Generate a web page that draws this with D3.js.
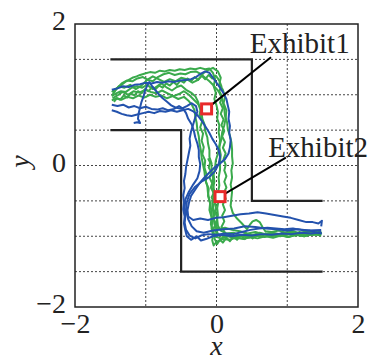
<!DOCTYPE html>
<html>
<head>
<meta charset="utf-8">
<script src="https://cdn.jsdelivr.net/npm/d3@7"></script>
<style>
  body { margin: 0; background: #fff; }
</style>
</head>
<body>
<figure id="chart" style="margin:0"></figure>
<script>
// axis ticks
const xTicks = [-2, 0, 2];
const yTicks = [-2, 0, 2];
const xGrid = [-1, 0, 1];
const yGrid = [-1.5, -1, -0.5, 0, 0.5, 1, 1.5];

// corridor walls
const wallUpper = [[-1.5, 1.5], [0.5, 1.5], [0.5, -0.5], [1.5, -0.5]];
const wallLower = [[-1.5, 0.5], [-0.5, 0.5], [-0.5, -1.5], [1.5, -1.5]];

// exhibits: position and label anchor
const exhibits = [
  { name: "Exhibit1", at: [-0.14, 0.80], label: [0.47, 1.59], end: [0.77, 1.53] },
  { name: "Exhibit2", at: [0.05, -0.44], label: [0.73, 0.12], end: [0.98, 0.11] }
];

// green trajectories
const green1 = [[-1.48,1.04],[-1.43,1.08],[-1.39,1.10],[-1.33,1.15],[-1.29,1.18],[-1.24,1.21],[-1.19,1.24],[-1.13,1.26],[-1.08,1.28],[-1.01,1.30],[-0.94,1.32],[-0.87,1.31],[-0.80,1.34],[-0.73,1.33],[-0.66,1.35],[-0.59,1.34],[-0.52,1.36],[-0.45,1.35],[-0.37,1.37],[-0.30,1.36],[-0.23,1.38],[-0.16,1.36],[-0.10,1.37],[-0.05,1.31],[-0.02,1.22],[-0.04,1.12],[-0.01,1.03],[-0.03,0.94],[0.00,0.85],[0.02,0.76],[0.01,0.66],[0.04,0.57],[0.03,0.47],[0.05,0.36],[0.04,0.26],[0.06,0.15],[0.05,0.05],[0.05,-0.06],[0.03,-0.17],[0.04,-0.28],[0.02,-0.39],[0.03,-0.49],[0.01,-0.60],[0.02,-0.70],[0.00,-0.80],[-0.01,-0.88],[0.02,-0.97],[0.10,-1.00],[0.19,-0.98],[0.29,-1.01],[0.40,-0.97],[0.50,-0.99],[0.61,-0.95],[0.72,-0.98],[0.83,-0.96],[0.94,-0.98],[1.04,-0.95],[1.15,-0.97],[1.25,-0.96],[1.37,-0.98],[1.49,-0.95]];
const green2 = [[-1.48,0.98],[-1.42,1.02],[-1.35,1.05],[-1.28,1.04],[-1.20,1.10],[-1.12,1.12],[-1.05,1.10],[-0.98,1.14],[-0.90,1.08],[-0.84,1.12],[-0.78,1.16],[-0.70,1.10],[-0.63,1.06],[-0.56,1.11],[-0.50,1.13],[-0.43,1.07],[-0.36,1.03],[-0.30,0.98],[-0.26,0.90],[-0.24,0.82],[-0.21,0.74],[-0.20,0.66],[-0.17,0.58],[-0.16,0.49],[-0.13,0.40],[-0.12,0.31],[-0.10,0.22],[-0.10,0.12],[-0.07,0.03],[-0.07,-0.07],[-0.05,-0.17],[-0.05,-0.27],[-0.03,-0.37],[-0.03,-0.47],[-0.01,-0.57],[-0.01,-0.67],[0.01,-0.76],[0.02,-0.85],[0.06,-0.92],[0.14,-0.96],[0.24,-0.95],[0.34,-0.99],[0.45,-0.97],[0.56,-1.00],[0.67,-0.97],[0.78,-1.00],[0.90,-0.98],[1.01,-1.01],[1.12,-0.98],[1.24,-1.00],[1.36,-0.97],[1.48,-0.99]];
const green3 = [[-1.47,1.00],[-1.41,1.09],[-1.34,1.16],[-1.27,1.20],[-1.19,1.19],[-1.12,1.23],[-1.04,1.25],[-0.97,1.21],[-0.90,1.19],[-0.83,1.25],[-0.75,1.29],[-0.67,1.31],[-0.59,1.28],[-0.51,1.30],[-0.44,1.29],[-0.37,1.32],[-0.29,1.33],[-0.22,1.29],[-0.16,1.24],[-0.10,1.19],[-0.04,1.13],[0.02,1.06],[0.07,0.98],[0.09,0.89],[0.11,0.80],[0.12,0.70],[0.15,0.61],[0.16,0.51],[0.19,0.42],[0.21,0.33],[0.22,0.23],[0.22,0.13],[0.23,0.03],[0.21,-0.07],[0.22,-0.17],[0.20,-0.27],[0.22,-0.37],[0.21,-0.47],[0.20,-0.57],[0.23,-0.67],[0.29,-0.75],[0.36,-0.82],[0.43,-0.90],[0.47,-0.84],[0.51,-0.79],[0.56,-0.77],[0.61,-0.80],[0.65,-0.87],[0.69,-0.93],[0.78,-0.94],[0.88,-0.92],[0.98,-0.95],[1.08,-0.93],[1.19,-0.96],[1.29,-0.93],[1.39,-0.95],[1.48,-0.93]];
const green4 = [[-1.48,0.92],[-1.41,0.95],[-1.34,0.93],[-1.26,0.97],[-1.18,0.95],[-1.10,0.99],[-1.02,0.96],[-0.94,1.00],[-0.86,0.97],[-0.78,0.99],[-0.70,0.95],[-0.62,0.98],[-0.54,0.94],[-0.46,0.97],[-0.40,0.92],[-0.35,0.86],[-0.31,0.78],[-0.30,0.69],[-0.28,0.60],[-0.27,0.50],[-0.25,0.41],[-0.24,0.31],[-0.22,0.21],[-0.21,0.11],[-0.19,0.01],[-0.17,-0.09],[-0.16,-0.19],[-0.13,-0.29],[-0.12,-0.39],[-0.10,-0.49],[-0.08,-0.59],[-0.07,-0.69],[-0.06,-0.79],[-0.07,-0.89],[-0.05,-0.98],[-0.06,-1.06],[-0.04,-1.13],[0.00,-1.08],[0.08,-1.04],[0.18,-1.05],[0.28,-1.02],[0.38,-1.04],[0.48,-1.01],[0.58,-1.03],[0.69,-1.00],[0.80,-1.02],[0.91,-0.99],[1.02,-1.01],[1.13,-0.98],[1.24,-1.00],[1.36,-0.97],[1.48,-0.98]];
const green5 = [[-1.46,1.03],[-1.38,1.12],[-1.30,1.10],[-1.22,1.14],[-1.14,1.08],[-1.06,1.13],[-0.98,1.21],[-0.90,1.26],[-0.82,1.22],[-0.74,1.18],[-0.66,1.22],[-0.58,1.19],[-0.50,1.24],[-0.42,1.22],[-0.34,1.17],[-0.26,1.21],[-0.19,1.30],[-0.12,1.35],[-0.05,1.38],[0.02,1.33],[0.06,1.24],[0.04,1.15],[0.09,1.07],[0.12,0.97],[0.10,0.88],[0.14,0.78],[0.13,0.67],[0.11,0.57],[0.08,0.47],[0.07,0.37],[0.04,0.27],[0.02,0.17],[-0.01,0.07],[-0.02,-0.03],[-0.04,-0.13],[-0.03,-0.23],[-0.05,-0.33],[-0.04,-0.43],[-0.06,-0.53],[-0.05,-0.63],[-0.04,-0.73],[-0.03,-0.83],[0.03,-0.90],[0.12,-0.88],[0.22,-0.91],[0.33,-0.93],[0.44,-0.96],[0.55,-0.94],[0.66,-0.97],[0.78,-0.95],[0.89,-0.97],[1.00,-0.94],[1.12,-0.96],[1.24,-0.94],[1.36,-0.96],[1.48,-0.95]];
const green6 = [[-1.47,0.95],[-1.40,0.99],[-1.33,1.04],[-1.25,1.00],[-1.17,1.05],[-1.09,1.03],[-1.01,1.07],[-0.93,1.04],[-0.85,1.02],[-0.77,1.06],[-0.69,1.02],[-0.61,0.98],[-0.53,1.01],[-0.46,1.05],[-0.39,1.00],[-0.33,0.94],[-0.27,0.88],[-0.22,0.81],[-0.24,0.72],[-0.20,0.63],[-0.23,0.54],[-0.19,0.45],[-0.21,0.35],[-0.18,0.26],[-0.20,0.16],[-0.16,0.07],[-0.17,-0.03],[-0.14,-0.13],[-0.15,-0.23],[-0.11,-0.33],[-0.12,-0.43],[-0.09,-0.53],[-0.10,-0.63],[-0.07,-0.73],[-0.08,-0.83],[-0.05,-0.92],[-0.02,-1.00],[0.06,-1.03],[0.16,-1.00],[0.26,-1.03],[0.36,-1.00],[0.46,-1.02],[0.57,-0.99],[0.68,-1.01],[0.79,-0.98],[0.90,-1.00],[1.01,-0.97],[1.12,-0.99],[1.23,-0.96],[1.35,-0.98],[1.48,-0.96]];
const green7 = [[-0.12,0.10],[-0.09,0.04],[-0.11,-0.03],[-0.07,-0.10],[-0.10,-0.17],[-0.06,-0.25],[-0.08,-0.31],[-0.04,-0.39],[-0.07,-0.45],[-0.03,-0.53],[-0.05,-0.60],[-0.02,-0.68],[-0.05,-0.74],[-0.01,-0.82],[-0.04,-0.89],[0.00,-0.95],[-0.03,-1.03],[0.01,-1.11],[0.05,-1.05],[0.09,-1.09],[0.14,-1.02],[0.19,-1.07],[0.24,-1.01],[0.29,-1.05],[0.34,-0.99],[0.40,-1.04],[0.45,-0.99],[0.51,-1.03],[0.57,-0.98],[0.63,-1.01],[0.69,-0.96],[0.75,-1.00],[0.81,-0.96],[0.87,-0.99],[0.93,-0.95],[0.99,-0.98],[1.05,-0.94],[1.11,-0.98],[1.17,-0.94],[1.23,-0.97],[1.29,-0.93],[1.35,-0.97],[1.41,-0.94],[1.48,-0.97]];
const green8 = [[-1.45,0.90],[-1.41,0.95],[-1.36,0.93],[-1.31,0.99],[-1.26,0.96],[-1.21,1.02],[-1.16,0.99],[-1.11,1.05],[-1.06,1.02],[-1.01,1.08],[-0.96,1.05],[-0.91,1.11],[-0.86,1.08],[-0.81,1.13],[-0.76,1.10],[-0.71,1.16],[-0.66,1.13],[-0.61,1.18],[-0.56,1.14],[-0.51,1.20],[-0.46,1.17],[-0.41,1.23],[-0.36,1.19],[-0.31,1.25],[-0.26,1.21],[-0.21,1.27],[-0.16,1.22],[-0.11,1.28],[-0.06,1.23],[-0.01,1.27],[0.04,1.20],[0.07,1.12],[0.04,1.05],[0.08,0.97],[0.05,0.89],[0.09,0.81],[0.06,0.73],[0.10,0.65],[0.07,0.57],[0.11,0.49],[0.08,0.41],[0.12,0.33],[0.09,0.25],[0.13,0.17],[0.10,0.09],[0.13,0.01],[0.11,-0.07],[0.14,-0.15],[0.11,-0.23],[0.14,-0.31],[0.10,-0.39],[0.13,-0.47],[0.09,-0.55],[0.12,-0.63],[0.08,-0.71],[0.11,-0.79],[0.07,-0.87],[0.12,-0.95]];

// blue trajectories
const blue1 = [[-1.48,1.07],[-1.40,1.09],[-1.32,1.12],[-1.24,1.11],[-1.16,1.14],[-1.08,1.15],[-1.00,1.17],[-0.92,1.16],[-0.84,1.18],[-0.76,1.17],[-0.68,1.19],[-0.60,1.18],[-0.52,1.20],[-0.44,1.21],[-0.36,1.22],[-0.29,1.25],[-0.22,1.30],[-0.16,1.33],[-0.10,1.31],[-0.05,1.24],[0.00,1.17],[0.05,1.10],[0.10,1.02],[0.14,0.94],[0.16,0.85],[0.18,0.76],[0.17,0.66],[0.19,0.56],[0.18,0.46],[0.20,0.36],[0.19,0.26],[0.17,0.17],[0.12,0.09],[0.05,0.03],[-0.03,-0.03],[-0.10,-0.10],[-0.17,-0.17],[-0.24,-0.25],[-0.30,-0.34],[-0.36,-0.43],[-0.39,-0.53],[-0.41,-0.63],[-0.40,-0.72],[-0.33,-0.77],[-0.23,-0.75],[-0.12,-0.77],[-0.01,-0.74],[0.10,-0.73],[0.22,-0.71],[0.34,-0.69],[0.46,-0.68],[0.58,-0.66],[0.70,-0.68],[0.82,-0.70],[0.94,-0.72],[1.05,-0.74],[1.16,-0.77],[1.27,-0.80],[1.36,-0.80],[1.44,-0.82],[1.49,-0.78],[1.48,-0.86]];
const blue2 = [[-1.48,0.86],[-1.40,0.84],[-1.32,0.86],[-1.24,0.82],[-1.16,0.84],[-1.08,0.81],[-1.00,0.83],[-0.92,0.80],[-0.84,0.79],[-0.76,0.81],[-0.68,0.78],[-0.60,0.80],[-0.53,0.84],[-0.47,0.80],[-0.43,0.74],[-0.40,0.66],[-0.35,0.58],[-0.32,0.49],[-0.30,0.40],[-0.27,0.31],[-0.25,0.22],[-0.25,0.12],[-0.23,0.02],[-0.24,-0.08],[-0.27,-0.18],[-0.33,-0.27],[-0.39,-0.37],[-0.44,-0.48],[-0.45,-0.59],[-0.44,-0.70],[-0.45,-0.81],[-0.43,-0.91],[-0.38,-0.99],[-0.30,-1.03],[-0.22,-0.99],[-0.12,-0.97],[0.00,-0.98],[0.12,-0.96],[0.24,-0.97],[0.36,-0.94],[0.48,-0.91],[0.60,-0.89],[0.72,-0.88],[0.84,-0.89],[0.96,-0.90],[1.08,-0.89],[1.20,-0.91],[1.32,-0.92],[1.42,-0.95],[1.49,-0.96]];
const blue3 = [[-1.48,0.78],[-1.41,0.76],[-1.34,0.73],[-1.27,0.71],[-1.20,0.70],[-1.12,0.72],[-1.04,0.74],[-0.96,0.76],[-0.88,0.74],[-0.80,0.77],[-0.72,0.76],[-0.64,0.78],[-0.56,0.76],[-0.48,0.78],[-0.40,0.80],[-0.32,0.76],[-0.26,0.70],[-0.20,0.62],[-0.15,0.54],[-0.10,0.46],[-0.06,0.38],[-0.01,0.30],[0.03,0.22],[0.05,0.12],[0.03,0.02],[-0.02,-0.08],[-0.10,-0.16],[-0.20,-0.22],[-0.30,-0.30],[-0.38,-0.40],[-0.42,-0.52],[-0.43,-0.64],[-0.40,-0.76],[-0.35,-0.86],[-0.28,-0.93],[-0.18,-0.95],[-0.05,-0.92],[0.10,-0.90],[0.25,-0.89],[0.40,-0.86],[0.55,-0.87],[0.70,-0.89],[0.85,-0.90],[1.00,-0.92],[1.15,-0.90],[1.30,-0.92],[1.48,-0.91]];
const blue4 = [[-1.17,0.60],[-1.12,0.61],[-1.08,0.60],[-1.11,0.66],[-1.10,0.74],[-1.08,0.82],[-1.06,0.90],[-1.03,0.98],[-1.01,1.06],[-0.98,1.13],[-0.95,1.18],[-0.91,1.12],[-0.86,1.06],[-0.81,1.00],[-0.76,0.95],[-0.70,0.90],[-0.64,0.85],[-0.58,0.82],[-0.50,0.80],[-0.42,0.84],[-0.35,0.88],[-0.29,0.84],[-0.27,0.76],[-0.30,0.68],[-0.33,0.58],[-0.36,0.48],[-0.38,0.38],[-0.37,0.28],[-0.39,0.18],[-0.41,0.08],[-0.43,-0.02],[-0.44,-0.12],[-0.46,-0.22],[-0.45,-0.32],[-0.47,-0.42],[-0.46,-0.52],[-0.47,-0.62],[-0.45,-0.72],[-0.46,-0.82],[-0.44,-0.92],[-0.42,-1.00],[-0.36,-1.05],[-0.28,-1.00],[-0.22,-1.06],[-0.15,-1.04],[-0.05,-1.00],[0.08,-0.98],[0.22,-1.00],[0.36,-0.98],[0.50,-0.99],[0.64,-0.97],[0.78,-0.98],[0.92,-0.96],[1.06,-0.97],[1.20,-0.95],[1.34,-0.96],[1.48,-0.94]];

const greens = [green1, green2, green3, green4, green5, green6, green7, green8];
const blues = [blue1, blue2, blue3, blue4];

const W = 373, H = 362;
const margin = { left: 75, top: 24, right: 15, bottom: 55 };
const width = W - margin.left - margin.right;
const height = H - margin.top - margin.bottom;
const font = "Liberation Serif";

const svg = d3.select("figure#chart")
  .append("svg")
  .attr("width", W)
  .attr("height", H)
  .append("g")
  .attr("transform", "translate(" + margin.left + "," + margin.top + ")");

const x = d3.scaleLinear().domain([-2, 2]).range([0, width]);
const y = d3.scaleLinear().domain([-2, 2]).range([height, 0]);

// dotted grid
svg.selectAll(".gx").data(xGrid).enter().append("line")
  .attr("x1", d => x(d)).attr("x2", d => x(d))
  .attr("y1", 0).attr("y2", height)
  .attr("stroke", "#444").attr("stroke-width", 1).attr("stroke-dasharray", "2,2");
svg.selectAll(".gy").data(yGrid).enter().append("line")
  .attr("x1", 0).attr("x2", width)
  .attr("y1", d => y(d)).attr("y2", d => y(d))
  .attr("stroke", "#444").attr("stroke-width", 1).attr("stroke-dasharray", "2,2");

const line = d3.line().x(d => x(d[0])).y(d => y(d[1]));

// walls
[wallUpper, wallLower].forEach(w => {
  svg.append("path").attr("d", line(w))
    .attr("fill", "none").attr("stroke", "#222").attr("stroke-width", 2.2);
});

// trajectories
greens.forEach(t => {
  svg.append("path").attr("d", line(t))
    .attr("fill", "none").attr("stroke", "#3aaa4c").attr("stroke-width", 2)
    .attr("stroke-linejoin", "round");
});
blues.forEach(t => {
  svg.append("path").attr("d", line(t))
    .attr("fill", "none").attr("stroke", "#2352ad").attr("stroke-width", 2)
    .attr("stroke-linejoin", "round");
});

// frame
svg.append("rect").attr("width", width).attr("height", height)
  .attr("fill", "none").attr("stroke", "#222").attr("stroke-width", 1.5);

// exhibits
exhibits.forEach(e => {
  svg.append("line")
    .attr("x1", x(e.at[0])).attr("y1", y(e.at[1]))
    .attr("x2", x(e.end[0])).attr("y2", y(e.end[1]))
    .attr("stroke", "#000").attr("stroke-width", 2);
  svg.append("rect")
    .attr("x", x(e.at[0]) - 5).attr("y", y(e.at[1]) - 5)
    .attr("width", 10).attr("height", 10)
    .attr("fill", "#fff").attr("stroke", "#e82a2a").attr("stroke-width", 3);
  svg.append("text")
    .attr("x", x(e.label[0])).attr("y", y(e.label[1]))
    .attr("font-family", font).attr("font-size", 29).attr("fill", "#222")
    .text(e.name);
});

// tick labels
const xAxis = svg.append("g")
  .attr("transform", "translate(0," + height + ")")
  .call(d3.axisBottom(x).tickValues(xTicks).tickSize(0).tickPadding(6).tickFormat(d3.format("d")));
xAxis.select(".domain").remove();
xAxis.attr("font-family", font).attr("font-size", 28);
xAxis.selectAll("text").attr("fill", "#222");

const yAxis = svg.append("g")
  .call(d3.axisLeft(y).tickValues(yTicks).tickSize(0).tickPadding(9).tickFormat(d3.format("d")));
yAxis.select(".domain").remove();
yAxis.attr("font-family", font).attr("font-size", 28);
yAxis.selectAll("text").attr("fill", "#222").attr("dy", "0.2em");

// axis titles
svg.append("text")
  .attr("x", x(0)).attr("y", height + 48)
  .attr("text-anchor", "middle").attr("font-family", font).attr("font-size", 28)
  .attr("font-style", "italic").attr("fill", "#222")
  .text("x");
svg.append("text")
  .attr("transform", "translate(" + (29 - margin.left) + "," + (y(0) - 4) + ") rotate(-90)")
  .attr("text-anchor", "middle").attr("font-family", font).attr("font-size", 28)
  .attr("font-style", "italic").attr("fill", "#222")
  .text("y");
</script>
</body>
</html>
